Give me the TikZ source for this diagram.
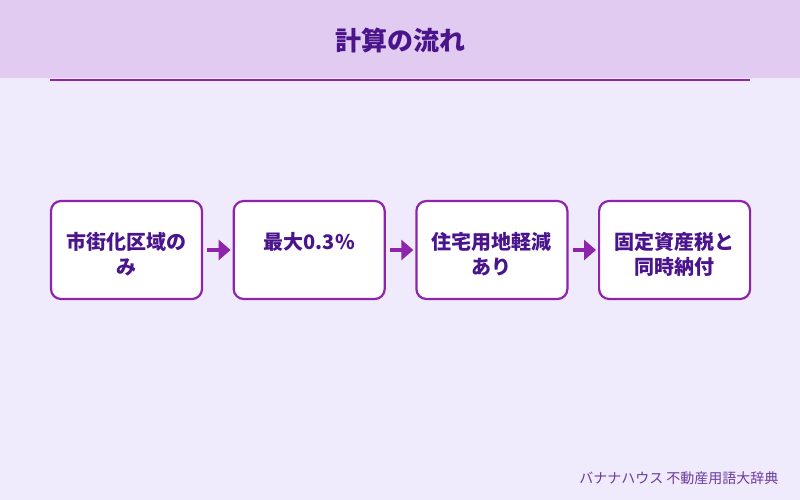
\documentclass[tikz,border=0pt]{standalone}
\usepackage{fontspec}
\setmainfont{Noto Sans CJK JP}
\usetikzlibrary{positioning,arrows.meta}

\definecolor{bgpurple}{HTML}{F0EAFD}
\definecolor{headpurple}{HTML}{E1CBF0}
\definecolor{linepurple}{HTML}{8E24AA}
\definecolor{textpurple}{HTML}{4A148C}
\definecolor{footpurple}{HTML}{6A3A9E}

\tikzset{
  stepbox/.style={draw=linepurple, line width=2.2pt, fill=white, rounded corners=10pt,
    minimum width=151pt, minimum height=98pt, inner sep=0pt},
  boxtext/.style={anchor=north, inner sep=0pt, align=center, text=textpurple,
    font=\fontsize{20}{25.5}\selectfont\bfseries},
  flow/.style={-{Triangle[length=12pt,width=20pt]}, line width=4pt, draw=linepurple}
}

\begin{document}
\begin{tikzpicture}[x=1pt, y=-1pt, node distance=29.5pt]
  \useasboundingbox[fill=bgpurple] (0,0) rectangle (800,500);
  % header
  \fill[headpurple] (0,0) rectangle (800,78);
  \draw[linepurple, line width=2pt] (50,80.5) -- (750,80.5);
  \node[text=textpurple, font=\fontsize{26}{30}\selectfont\bfseries] (title) at (400,40) {計算の流れ};

  % steps
  \node[stepbox] (b1) at (126.5,250) {};
  \node[stepbox] (b2) [right=of b1] {};
  \node[stepbox] (b3) [right=of b2] {};
  \node[stepbox] (b4) [right=of b3] {};

  \node[boxtext] (t1) at ([yshift=-32pt]b1.north) {市街化区域の\\み};
  \node[boxtext] (t2) at ([yshift=-32pt]b2.north) {最大0.3\%};
  \node[boxtext] (t3) at ([yshift=-32pt]b3.north) {住宅用地軽減\\あり};
  \node[boxtext] (t4) at ([yshift=-32pt]b4.north) {固定資産税と\\同時納付};

  \draw[flow] ([xshift=4pt]b1.east) -- ([xshift=-2pt]b2.west);
  \draw[flow] ([xshift=4pt]b2.east) -- ([xshift=-2pt]b3.west);
  \draw[flow] ([xshift=4pt]b3.east) -- ([xshift=-2pt]b4.west);

  % footer
  \node[anchor=east, text=footpurple, font=\fontsize{14}{16}\selectfont] (credit) at (782,478) {バナナハウス 不動産用語大辞典};
\end{tikzpicture}
\end{document}
